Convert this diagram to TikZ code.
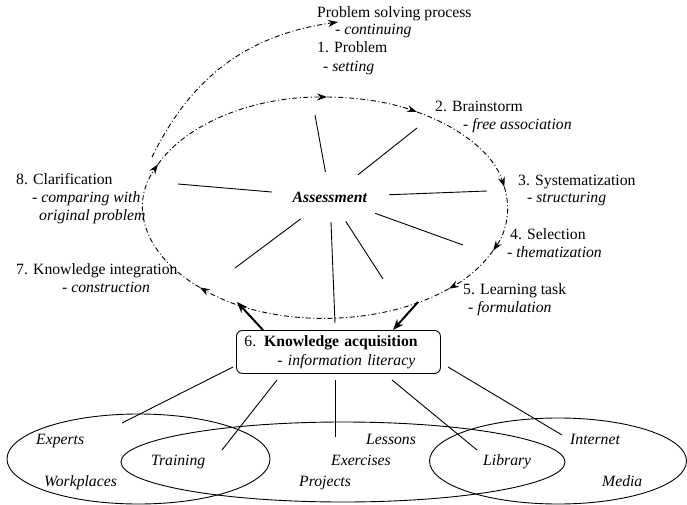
\documentclass[tikz,border=0pt]{standalone}
\usepackage{fontspec}
\setmainfont{Liberation Serif}
\usetikzlibrary{arrows.meta,shapes.geometric}

\tikzset{
  lbl/.style={anchor=base west, inner sep=0pt},
  cyc/.style={line width=0.9pt, dash pattern=on 5pt off 2.5pt on 1pt off 2.5pt, -{Stealth[length=10pt,width=7pt]}},
  spoke/.style={line width=0.9pt},
  thk/.style={line width=2pt, -{Stealth[length=11pt,width=8.5pt]}},
  kbox/.style={draw, rounded corners=6pt, line width=0.9pt, anchor=north west, text width=188pt, minimum height=43pt, inner xsep=8pt, inner ysep=0pt, align=left},
  ashape/.style={ellipse, minimum width=118pt, minimum height=50pt, inner sep=0pt}
}

\begin{document}
\begin{tikzpicture}[x=1pt, y=-1pt, font=\fontsize{15.7}{19}\selectfont]
\useasboundingbox (0,0) rectangle (687,505);

% texts round the cycle
\node[lbl] (t0) at (317,18) {Problem solving process};
\node[lbl] (t0a) at (335,35) {- \textit{continuing}};
\node[lbl] (t1) at (317,53) {1. Problem};
\node[lbl] (t1a) at (323,72) {- \textit{setting}};
\node[lbl] (t2) at (435,112) {2. Brainstorm};
\node[lbl] (t2a) at (463,130) {- \textit{free association}};
\node[lbl] (t3) at (518,185) {3. Systematization};
\node[lbl] (t3a) at (527,202) {- \textit{structuring}};
\node[lbl] (t4) at (510,239) {4. Selection};
\node[lbl] (t4a) at (507,257) {- \textit{thematization}};
\node[lbl] (t5) at (463,294) {5. Learning task};
\node[lbl] (t5a) at (468,312) {- \textit{formulation}};
\node[lbl] (t7) at (16,274) {7. Knowledge integration};
\node[lbl] (t7a) at (62,292) {- \textit{construction}};
\node[lbl] (t8) at (16,184) {8. Clarification};
\node[lbl] (t8a) at (32,202) {- \textit{comparing with}};
\node[lbl] (t8b) at (39,220) {\textit{original problem}};

% centre and box
\node[ashape] (as) at (330,197) {\textbf{\textit{Assessment}}};
\node[kbox] (ka) at (236,330) {6. \textbf{Knowledge acquisition}\\\hspace*{33pt}- \textit{information literacy}};

% the cycle
\coordinate (ctr) at (325.5,207.5);
\foreach \a/\b in {-157/-89.5, -89.5/-59.8, -59.8/-10.7, -10.7/23, 23/47.3, 47.3/133.7, 133.7/203}
  \draw[cyc] (ctr) ++(\a:182 and 110.5) arc[start angle=\a, end angle=\b, x radius=182, y radius=110.5];

\coordinate (ps) at (152,157);
\coordinate (pe) at (338,22);
\draw[cyc] (ps) .. controls (188,84) and (240,36) .. (pe);

% spokes
\coordinate (s1) at (315,115);
\coordinate (s2) at (417,128);
\coordinate (s3) at (487,191);
\coordinate (s4) at (463,245);
\coordinate (s5) at (383,279);
\coordinate (s6) at (335,323);
\coordinate (s7) at (235,268);
\coordinate (s8) at (178,184);
\foreach \s in {1,...,8}
  \draw[spoke] (as) -- (s\s);

% box to cycle
\coordinate (k7) at (263,330);
\coordinate (j7) at (237,302);
\coordinate (j5) at (418,302);
\coordinate (k5) at (393,330);
\draw[thk] (k7) -- (j7);
\draw[thk] (j5) -- (k5);

% sources
\draw[spoke] (138.5,459) ellipse [x radius=131.5, y radius=45];
\draw[spoke] (343,462) ellipse [x radius=222, y radius=40];
\draw[spoke] (558,461) ellipse [x radius=128.5, y radius=43];

\coordinate (b1) at (233,367);
\coordinate (b2) at (277,380);
\coordinate (b3) at (335,380);
\coordinate (b4) at (392,380);
\coordinate (b5) at (448,367);
\coordinate (e1) at (122,423);
\coordinate (e2) at (222,450);
\coordinate (e3) at (335,437);
\coordinate (e4) at (477,450);
\coordinate (e5) at (562,435);
\foreach \s in {1,...,5}
  \draw[spoke] (b\s) -- (e\s);

\node[lbl] (w1) at (36,444) {\textit{Experts}};
\node[lbl] (w2) at (44,486) {\textit{Workplaces}};
\node[lbl] (w3) at (151,465) {\textit{Training}};
\node[lbl] (w4) at (366,444) {\textit{Lessons}};
\node[lbl] (w5) at (331,465) {\textit{Exercises}};
\node[lbl] (w6) at (299,486) {\textit{Projects}};
\node[lbl] (w7) at (483,465) {\textit{Library}};
\node[lbl] (w8) at (570,444) {\textit{Internet}};
\node[lbl] (w9) at (602,486) {\textit{Media}};
\end{tikzpicture}
\end{document}
